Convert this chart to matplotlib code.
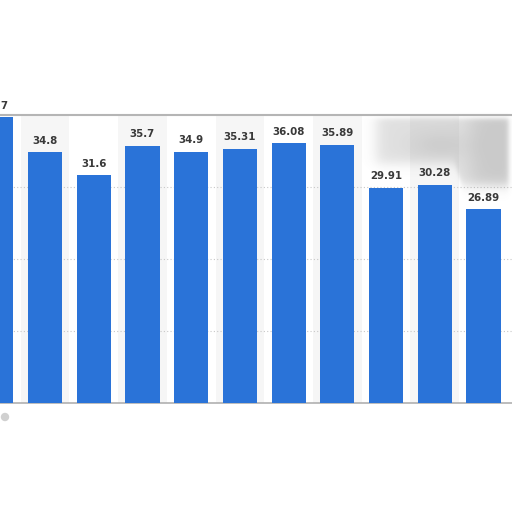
import matplotlib
matplotlib.use('Agg')
import matplotlib.pyplot as plt
import numpy as np

# values (first bar is cut off at the left edge)
values = [39.7, 34.8, 31.6, 35.7, 34.9, 35.31, 36.08, 35.89, 29.91, 30.28, 26.89]
labels = ['39.7', '34.8', '31.6', '35.7', '34.9', '35.31', '36.08', '35.89', '29.91', '30.28', '26.89']

bar_color = '#2a73d8'
band_color = '#f6f6f6'

fig = plt.figure(figsize=(5.12, 5.12), dpi=100)
ax = fig.add_axes([0, 0.2129, 1, 0.5625])

x = np.arange(len(values))

# alternating column bands
for i in x:
    if i % 2 == 1:
        ax.axvspan(i - 0.5, i + 0.5, color=band_color, zorder=0, lw=0)

ax.bar(x, values, width=0.7, color=bar_color, zorder=3)

ax.set_xlim(0.076, 10.585)
ax.set_ylim(0, 40)
ax.set_yticks([10, 20, 30])
ax.yaxis.grid(True, linestyle=(0, (1, 2)), color='#c8c8c8', linewidth=0.8, zorder=1)
ax.set_axisbelow(True)
ax.tick_params(left=False, bottom=False, labelleft=False, labelbottom=False)
ax.set_xticks([])

for s in ['left', 'right']:
    ax.spines[s].set_visible(False)
ax.spines['top'].set_color('#b5b5b5')
ax.spines['top'].set_linewidth(1.5)
ax.spines['bottom'].set_color('#b0b0b0')
ax.spines['bottom'].set_linewidth(1.2)

# soft grey smudge in the top right corner of the screenshot
sm = fig.add_axes([0, 0, 1, 1], zorder=5)
sm.set_axis_off()
px = np.arange(512)[None, :].astype(float)
py = np.arange(512)[:, None].astype(float)
def sig(a):
    return 0.5 * (1 + np.tanh(a))
bottom = 163 + 22 * sig((px - 458) / 4)
mask = sig((px - 376) / 8) * sig((508 - px) / 3) * sig((py - 118) / 3) * sig((bottom - py) / 7)
shade = 0.21 + 0.15 * sig((px - 470) / 12) + 0.08 * np.exp(-((px - 440) / 30) ** 2 - ((py - 145) / 15) ** 2)
alpha = mask * shade
rgba = np.zeros((512, 512, 4))
rgba[..., :3] = 0.42
rgba[..., 3] = alpha
sm.imshow(rgba, extent=(0, 512, 512, 0), interpolation='bilinear')
sm.set_xlim(0, 512)
sm.set_ylim(512, 0)
sm.add_patch(plt.Circle((5, 417), 3.5, color='#d0d0d0'))

# value labels drawn above the smudge layer
for xi, v, lab in zip(x, values, labels):
    sm.text(xi, v + 0.9, lab, ha='center', va='bottom', fontsize=7.4,
            fontweight='bold', color='#393939', clip_on=False,
            transform=ax.transData, zorder=6)

fig.savefig('out.png', dpi=100)
